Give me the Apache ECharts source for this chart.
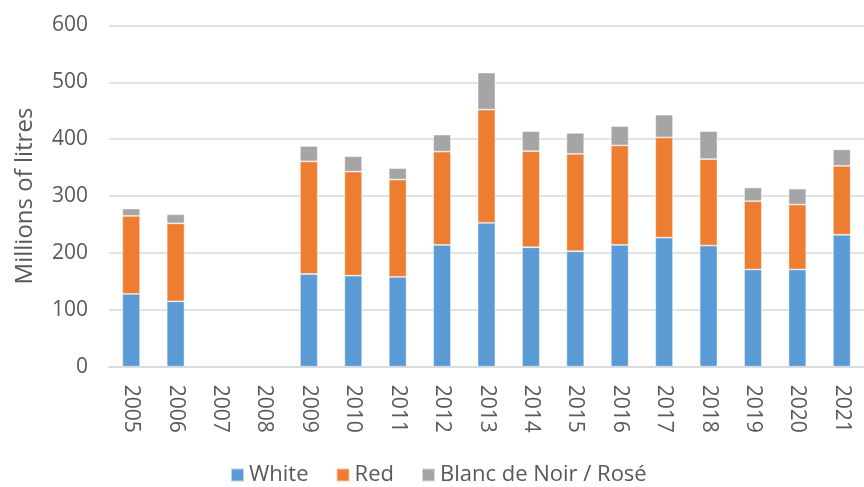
<!DOCTYPE html>
<html>
<head>
<meta charset="utf-8">
<script src="https://cdn.jsdelivr.net/npm/echarts@6/dist/echarts.min.js"></script>
<style>
  html, body { margin: 0; padding: 0; background: #ffffff; }
  #chart { width: 864px; height: 487px; }
</style>
</head>
<body>
<div id="chart"></div>
<script>
// Wine production by type, millions of litres
const years = ['2005','2006','2007','2008','2009','2010','2011','2012','2013','2014','2015','2016','2017','2018','2019','2020','2021'];
const white = [128, 115, null, null, 163, 160, 158, 214, 253, 210, 203, 214, 227, 213, 171, 171, 232];
const red   = [137, 137, null, null, 198, 183, 171, 164, 199, 169, 171, 175, 176, 152, 120, 114, 121];
const rose  = [13, 16, null, null, 27, 27, 20, 30, 65, 35, 37, 34, 40, 49, 24, 28, 29];
const yTicks = [0, 100, 200, 300, 400, 500, 600];

const FONT = '"Open Sans", "Noto Sans", sans-serif';
const TEXT = '#595959';

const chart = echarts.init(document.getElementById('chart'), null, { renderer: 'canvas' });

function barSeries(name, data, color) {
  return {
    name: name,
    type: 'bar',
    stack: 'total',
    data: data,
    barWidth: '40%',
    itemStyle: { color: color, borderColor: 'rgba(255,255,255,0.55)', borderWidth: 0.8 },
    emphasis: { disabled: true }
  };
}

chart.setOption({
  animation: false,
  textStyle: { fontFamily: FONT },
  grid: { left: 109, right: -8, top: 25.4, bottom: 120.3, containLabel: false },
  legend: {
    left: 230,
    top: 464,
    padding: 0,
    itemWidth: 13,
    itemHeight: 13,
    itemGap: 27,
    icon: 'rect',
    textStyle: { fontFamily: FONT, fontSize: 22, color: TEXT, padding: [0, 0, 0, 0] },
    data: ['White', 'Red', 'Blanc de Noir / Rosé']
  },
  xAxis: {
    type: 'category',
    data: years,
    axisTick: { show: false },
    axisLine: { show: true, lineStyle: { color: '#d9d9d9', width: 1.5 } },
    axisLabel: { rotate: -90, margin: 18, fontSize: 21, color: TEXT, fontFamily: FONT, interval: 0 }
  },
  yAxis: {
    type: 'value',
    min: yTicks[0],
    max: yTicks[yTicks.length - 1],
    interval: yTicks[1] - yTicks[0],
    name: 'Millions of litres',
    nameLocation: 'middle',
    nameGap: 72,
    nameRotate: 90,
    nameTextStyle: { fontSize: 24, color: TEXT, fontFamily: FONT },
    axisLine: { show: false },
    axisTick: { show: false },
    axisLabel: { margin: 21, fontSize: 21, color: TEXT, fontFamily: FONT },
    splitLine: { show: true, lineStyle: { color: '#d9d9d9', width: 1.5 } }
  },
  series: [
    barSeries('White', white, '#5B9BD5'),
    barSeries('Red', red, '#ED7D31'),
    barSeries('Blanc de Noir / Rosé', rose, '#A5A5A5')
  ]
});
</script>
</body>
</html>
